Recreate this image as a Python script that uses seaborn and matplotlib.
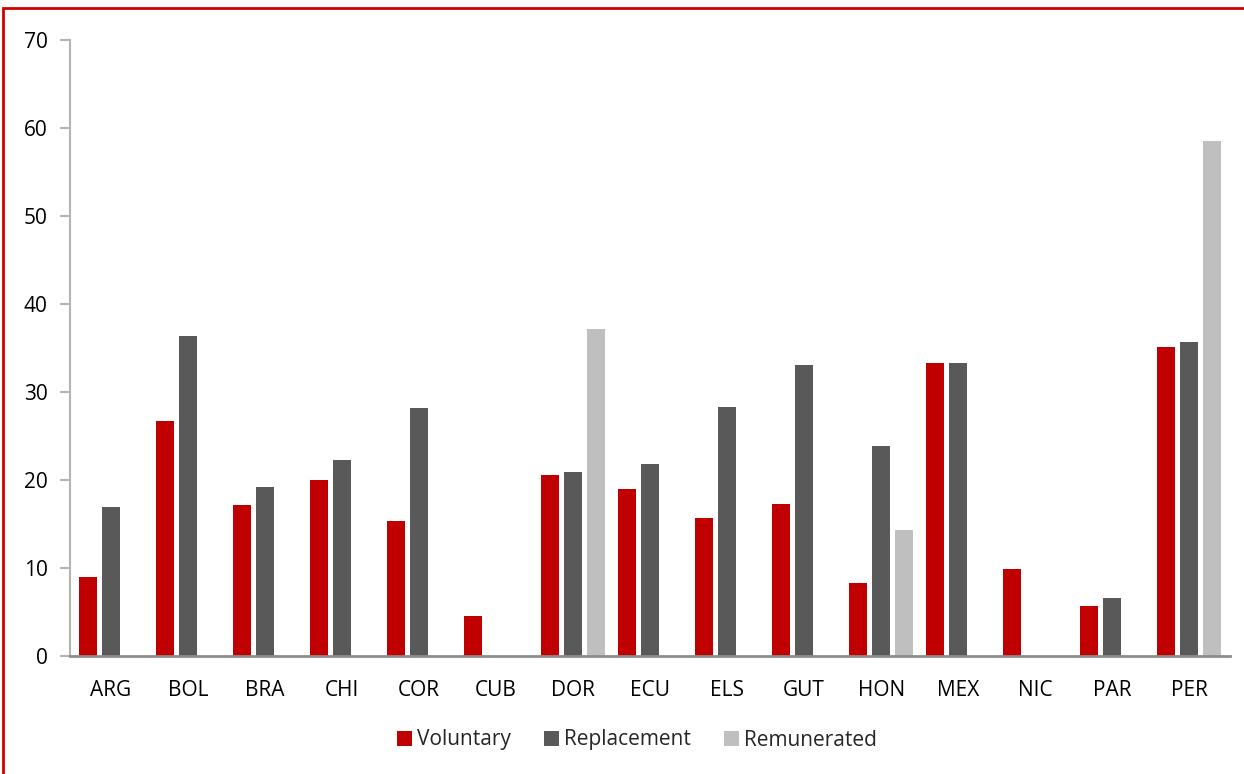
import numpy as np
import pandas as pd
import seaborn as sns
import matplotlib.pyplot as plt
from matplotlib.patches import Rectangle

# values
countries = ["ARG", "BOL", "BRA", "CHI", "COR", "CUB", "DOR", "ECU",
             "ELS", "GUT", "HON", "MEX", "NIC", "PAR", "PER"]
voluntary = [9.0, 26.7, 17.2, 20.0, 15.3, 4.6, 20.6, 19.0,
             15.7, 17.3, 8.3, 33.3, 9.9, 5.7, 35.1]
replacement = [16.9, 36.4, 19.2, 22.3, 28.2, np.nan, 20.9, 21.8,
               28.3, 33.1, 23.9, 33.3, np.nan, 6.6, 35.7]
remunerated = [np.nan, np.nan, np.nan, np.nan, np.nan, np.nan, 37.2, np.nan,
               np.nan, np.nan, 14.3, np.nan, np.nan, np.nan, 58.5]
series = ["Voluntary", "Replacement", "Remunerated"]
colors = ["#C00000", "#595959", "#BFBFBF"]


def main():
    df = pd.DataFrame({
        "country": countries * 3,
        "type": [s for s in series for _ in countries],
        "value": voluntary + replacement + remunerated,
    })

    sns.set_theme(style="white")
    plt.rcParams['font.family'] = ['Open Sans', 'DejaVu Sans']

    fig = plt.figure(figsize=(12.44, 7.74), dpi=100)
    ax = fig.add_axes([70 / 1244, 1 - 656 / 774, 1160 / 1244, 616 / 774])

    sns.barplot(data=df, x="country", y="value", hue="type", order=countries,
                hue_order=series, palette=colors, saturation=1, width=0.9, gap=0.22,
                linewidth=0, errorbar=None, ax=ax)

    ax.set_xlim(-0.53, 14.53)
    ax.set_ylim(0, 70)
    ax.set_yticks(range(0, 71, 10))
    ax.set_xlabel("")
    ax.set_ylabel("")

    for s in ["top", "right"]:
        ax.spines[s].set_visible(False)
    ax.spines["left"].set_color("#B3B3B3")
    ax.spines["left"].set_linewidth(1.5)
    ax.spines["bottom"].set_color("#8C8C8C")
    ax.spines["bottom"].set_linewidth(2)

    ax.tick_params(axis="y", left=True, length=7, width=1.5, color="#B3B3B3",
                   pad=9, labelsize=15, labelcolor="black")
    ax.tick_params(axis="x", bottom=False, pad=11, labelsize=15, labelcolor="black")

    handles, labels = ax.get_legend_handles_labels()
    ax.legend_.remove()
    fig.legend(handles, labels, loc="center", bbox_to_anchor=(637 / 1244, 1 - 740 / 774),
               ncol=3, frameon=False, fontsize=15, handlelength=0.7, handleheight=0.7,
               handletextpad=0.25, columnspacing=1.6)

    # red frame around the figure (only top and left edges visible)
    fig.patches.append(Rectangle((3 / 1244, -0.5), 2.0, 1.5 - 8 / 774,
                                 transform=fig.transFigure, fill=False,
                                 edgecolor="#D00000", linewidth=2, clip_on=False))

    fig.savefig("out.png", dpi=100)


if __name__ == "__main__":
    main()
